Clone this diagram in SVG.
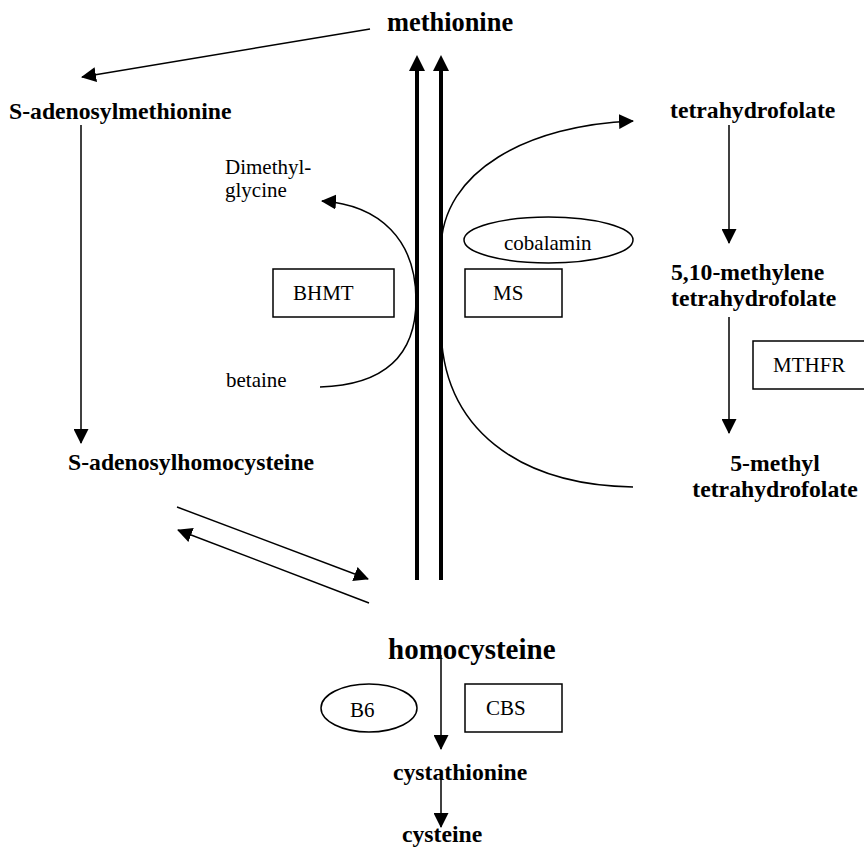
<svg xmlns="http://www.w3.org/2000/svg" width="864" height="847" viewBox="0 0 864 847">
<defs>
<marker id="ah" viewBox="0 0 15 15" refX="14" refY="7.5" markerWidth="15" markerHeight="15" markerUnits="userSpaceOnUse" orient="auto"><path d="M0,0L15,7.5L0,15z" fill="#000"/></marker>
<marker id="ahT" viewBox="0 0 16 16" refX="2" refY="8" markerWidth="16" markerHeight="16" markerUnits="userSpaceOnUse" orient="auto"><path d="M0,0L16,8L0,16z" fill="#000"/></marker>
<style>
.ln{fill:none;stroke:#000;stroke-width:1.5}
.thick{fill:none;stroke:#000;stroke-width:4}
.box{fill:#fff;stroke:#000;stroke-width:1.5}
</style>
</defs>
<rect width="864" height="847" fill="#fff"/>
<g id="connectors">
<line class="thick" x1="417" y1="580" x2="417" y2="69" marker-end="url(#ahT)"/>
<line class="thick" x1="441" y1="580" x2="441" y2="69" marker-end="url(#ahT)"/>
<line class="ln" x1="370" y1="29" x2="82" y2="77" marker-end="url(#ah)"/>
<line class="ln" x1="81" y1="125" x2="81" y2="443" marker-end="url(#ah)"/>
<line class="ln" x1="729" y1="125" x2="729" y2="243" marker-end="url(#ah)"/>
<line class="ln" x1="729" y1="317" x2="729" y2="433" marker-end="url(#ah)"/>
<line class="ln" x1="177" y1="507" x2="368" y2="579" marker-end="url(#ah)"/>
<line class="ln" x1="369" y1="603" x2="178" y2="530" marker-end="url(#ah)"/>
<line class="ln" x1="441" y1="655" x2="441" y2="749" marker-end="url(#ah)"/>
<line class="ln" x1="441" y1="777" x2="441" y2="827" marker-end="url(#ah)"/>
<path class="ln" d="M320,387 C385,385 416,355 416,300 C416,240 380,205 322,201" marker-end="url(#ah)"/>
<path class="ln" d="M441,250 C441,170 530,125 633,121" marker-end="url(#ah)"/>
<path class="ln" d="M441,325 C441,430 520,485 633,487"/>
</g>
<g font-family="Liberation Serif" font-weight="bold" font-size="23.7" fill="#000">
<g id="methionine"><text x="387" y="31" font-family="Liberation Serif" font-size="26.4">methionine</text></g>
<g id="sam"><text x="9" y="119" font-family="Liberation Serif">S-adenosylmethionine</text></g>
<g id="thf"><text x="670" y="118" font-family="Liberation Serif">tetrahydrofolate</text></g>
<g id="methylene-thf"><text x="671" y="280" font-family="Liberation Serif">5,10-methylene</text><text x="671" y="306" font-family="Liberation Serif">tetrahydrofolate</text></g>
<g id="methyl-thf"><text x="775" y="471" text-anchor="middle" font-family="Liberation Serif">5-methyl</text><text x="775" y="497" text-anchor="middle" font-family="Liberation Serif">tetrahydrofolate</text></g>
<g id="sah"><text x="68" y="470" font-family="Liberation Serif">S-adenosylhomocysteine</text></g>
<g id="homocysteine"><text x="388" y="659" font-family="Liberation Serif" font-size="29">homocysteine</text></g>
<g id="cystathionine"><text x="393" y="780" font-family="Liberation Serif">cystathionine</text></g>
<g id="cysteine"><text x="402" y="842" font-family="Liberation Serif">cysteine</text></g>
</g>
<g font-family="Liberation Serif" font-size="21" fill="#000">
<g id="dmg"><text x="225" y="174" font-family="Liberation Serif">Dimethyl-</text><text x="225" y="197" font-family="Liberation Serif">glycine</text></g>
<g id="cobalamin"><ellipse class="box" cx="548.5" cy="240" rx="84.5" ry="23"/><text x="504" y="250" font-family="Liberation Serif">cobalamin</text></g>
<g id="bhmt"><rect class="box" x="273" y="269" width="121" height="48"/><text x="293" y="300" font-family="Liberation Serif">BHMT</text></g>
<g id="ms"><rect class="box" x="465" y="269" width="97" height="48"/><text x="493" y="300" font-family="Liberation Serif">MS</text></g>
<g id="mthfr"><rect class="box" x="753" y="341" width="120" height="48"/><text x="773" y="372" font-family="Liberation Serif">MTHFR</text></g>
<g id="betaine"><text x="226" y="387" font-family="Liberation Serif">betaine</text></g>
<g id="b6"><ellipse class="box" cx="369" cy="708" rx="48" ry="24"/><text x="350" y="717" font-family="Liberation Serif">B6</text></g>
<g id="cbs"><rect class="box" x="465" y="684" width="97" height="48"/><text x="486" y="715" font-family="Liberation Serif">CBS</text></g>
</g>
</svg>
